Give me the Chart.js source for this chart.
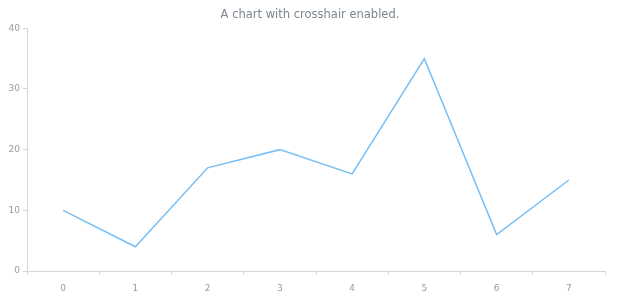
<!DOCTYPE html>
<html><head><meta charset="utf-8">
<script src="https://cdn.jsdelivr.net/npm/chart.js@4"></script>
<style>html,body{margin:0;padding:0;background:#fff}#w{width:620px;height:300px}</style>
</head><body><div id="w"><canvas id="c"></canvas></div>
<script>
const categories = ['0','1','2','3','4','5','6','7'];
const values = [10, 4, 17, 20, 16, 35, 6, 15];
const yTicks = [0, 10, 20, 30, 40];
const titleText = 'A chart with crosshair enabled.';

Chart.defaults.font.family = '"DejaVu Sans", Verdana, sans-serif';
new Chart(document.getElementById('c'), {
  type: 'line',
  data: { labels: categories, datasets: [{ data: values, borderColor: '#76bff6', borderWidth: 1.5, pointRadius: 0, tension: 0, fill: false }] },
  options: {
    responsive: true, maintainAspectRatio: false, animation: false,
    layout: { padding: 0 },
    plugins: {
      legend: { display: false }, tooltip: { enabled: false },
      title: { display: true, text: titleText, color: '#7c868e', font: { size: 11.5, weight: 'normal' }, padding: { top: 8, bottom: 6.5 } }
    },
    scales: {
      x: {
        offset: true,
        grid: { display: true, drawOnChartArea: false, offset: true, tickLength: 4, color: '#d6d6d6' },
        border: { color: '#d6d6d6' },
        ticks: { color: '#9a9a9a', font: { size: 9 }, padding: 8, maxRotation: 0 },
        afterFit: s => { s.height = 29; }
      },
      y: {
        min: 0, max: 40,
        afterBuildTicks: s => { s.ticks = yTicks.map(v => ({ value: v })); },
        grid: { display: true, drawOnChartArea: false, tickLength: 4, color: '#d6d6d6' },
        border: { color: '#d6d6d6' },
        ticks: { color: '#9a9a9a', font: { size: 9 }, padding: 3 },
        afterFit: s => { s.width = 27; }
      },
      yRight: {
        position: 'right', display: true, min: 0, max: 40,
        grid: { display: false }, border: { display: false }, ticks: { display: false },
        afterFit: s => { s.width = 15; }
      }
    }
  }
});
</script></body></html>
